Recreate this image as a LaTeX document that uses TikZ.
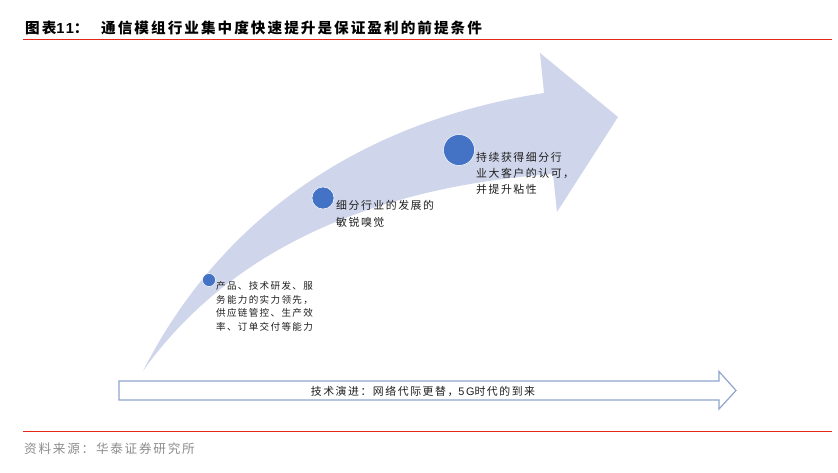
\documentclass[tikz,border=0pt]{standalone}
\usepackage{fontspec}
\setmainfont{Liberation Sans}
\newfontfamily\cjk[LetterSpace=14]{Noto Sans CJK SC}
\newcommand{\fwcolon}{\char"FF1A\relax}
\newcommand{\fwcomma}{\char"FF0C\relax}
\definecolor{bandfill}{HTML}{CFD5EA}
\definecolor{dotblue}{HTML}{4472C4}
\definecolor{outlineblue}{HTML}{8FA5CF}
\definecolor{hairred}{rgb}{0.9,0.15,0.1}
\definecolor{inkdark}{HTML}{1F1F1F}
\definecolor{sourcegray}{HTML}{8C8C8C}
\tikzset{
  dot/.style={circle,fill=dotblue,draw=white,line width=0.5pt,inner sep=0pt},
  note/.style={anchor=west,align=left,inner sep=0pt,text=inkdark},
  redrule/.style={draw=hairred,line width=1pt}
}
\begin{document}
\begin{tikzpicture}[x=1pt,y=-1pt]
\useasboundingbox (0,0) rectangle (838,473);

% curved band
\fill[bandfill] (143,371) .. controls (225,210) and (370,120) .. (544,93)
  -- (540,53) -- (618,117) -- (557,212) -- (553,174)
  .. controls (400,185) and (240,235) .. (143,371) -- cycle;

\node[dot,minimum size=13pt] (d1) at (209,280) {};
\node[dot,minimum size=22pt] (d2) at (323,198) {};
\node[dot,minimum size=31pt] (d3) at (459,150) {};

\node[note,font={\fontsize{9.55}{13.7}\selectfont\cjk}] (n1) at (216,306.5) {产品、技术研发、服\\务能力的实力领先\fwcomma\\供应链管控、生产效\\率、订单交付等能力};
\node[note,font={\fontsize{10.9}{17}\selectfont\cjk}] (n2) at (336,213.5) {细分行业的发展的\\敏锐嗅觉};
\node[note,font={\fontsize{10.9}{15.7}\selectfont\cjk}] (n3) at (476,173.5) {持续获得细分行\\业大客户的认可\fwcomma\\并提升粘性};

% long arrow
\draw[outlineblue,fill=white,line width=1.2pt,line join=miter] (119,381) -- (719,381) -- (719,371.5) -- (736,390.5) -- (719,409) -- (719,400) -- (119,400) -- cycle;
\node[inner sep=0pt,text=inkdark,font={\fontsize{10.9}{13}\selectfont\cjk}] (tech) at (423,391) {技术演进\fwcolon 网络代际更替\fwcomma{\fontspec{Liberation Sans}\addfontfeature{LetterSpace=14}5G}时代的到来};

\node[anchor=west,inner sep=0pt,text=sourcegray,font={\fontsize{12.6}{14}\selectfont\cjk}] (source) at (24,449) {资料来源\fwcolon 华泰证券研究所};

% title and rules
\node[anchor=west,inner sep=0pt,text=black] (title) at (25,28) {\fontsize{14.6}{16}\selectfont\cjk\bfseries 图表{\fontspec{Liberation Sans}\addfontfeature{LetterSpace=14}11}\fwcolon};
\node[anchor=west,inner sep=0pt,text=black] (heading) at (101,28) {\fontsize{14.6}{16}\selectfont\cjk\bfseries 通信模组行业集中度快速提升是保证盈利的前提条件};
\coordinate (ruleC) at (23,431);
\coordinate (ruleD) at (832,431);
\coordinate (ruleA) at (23,39.5);
\coordinate (ruleB) at (832,39.5);
\draw[redrule] (ruleC) -- (ruleD);
\draw[redrule] (ruleA) -- (ruleB);
\end{tikzpicture}
\end{document}
